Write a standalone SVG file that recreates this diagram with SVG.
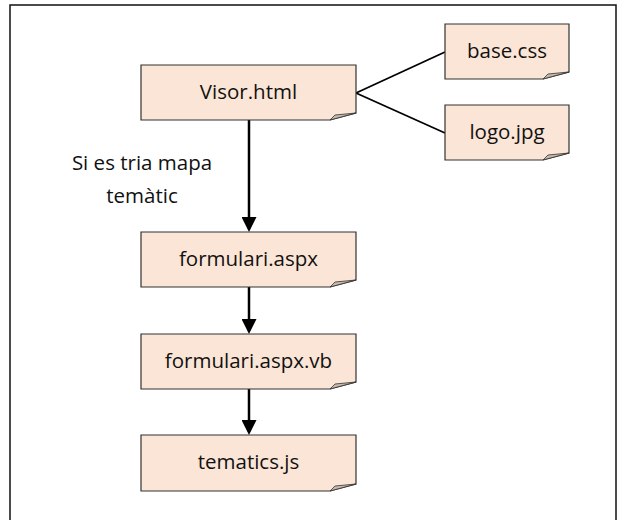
<svg xmlns="http://www.w3.org/2000/svg" width="625" height="520" viewBox="0 0 625 520">
<defs>
<style>
.note{fill:#fbe5d6;stroke:#333;stroke-width:1.2}
.fold{fill:#c9b9aa;stroke:#333;stroke-width:0.8}
.lbl{font-family:"Open Sans","Noto Sans",sans-serif;font-size:20.5px;fill:#111;text-anchor:middle}
.arr{stroke:#000;stroke-width:2.5;fill:none;marker-end:url(#ah)}
.ln{stroke:#000;stroke-width:1.8;fill:none}
</style>
<marker id="ah" markerUnits="userSpaceOnUse" markerWidth="15" markerHeight="15" viewBox="0 0 15 15" refX="12" refY="7.5" orient="auto">
<path d="M0,0 L15,7.5 L0,15 Z" fill="#000"/>
</marker>
</defs>
<rect x="0" y="0" width="625" height="520" fill="#fff"/>
<path d="M10,521 V5 H616 V521" fill="none" stroke="#111" stroke-width="1.5"/>
<g id="connectors">
<line class="arr" x1="249" y1="120" x2="249" y2="229"/>
<line class="arr" x1="249" y1="287" x2="249" y2="331"/>
<line class="arr" x1="249" y1="389" x2="249" y2="432"/>
<line class="ln" x1="356" y1="93" x2="445" y2="52"/>
<line class="ln" x1="356" y1="93" x2="445" y2="133"/>
<text class="lbl" x="142" y="170">Si es tria mapa</text>
<text class="lbl" x="142" y="203">temàtic</text>
</g>
<g id="visor">
<path class="note" d="M141,65 H356 V113 L330,120 H141 Z"/>
<polygon class="fold" points="330,120 335,115 356,113"/>
<text class="lbl" x="248.5" y="99">Visor.html</text>
</g>
<g id="base">
<path class="note" d="M445,24 H569 V72 L543,79 H445 Z"/>
<polygon class="fold" points="543,79 548,74 569,72"/>
<text class="lbl" x="507" y="58">base.css</text>
</g>
<g id="logo">
<path class="note" d="M445,105 H569 V153 L543,160 H445 Z"/>
<polygon class="fold" points="543,160 548,155 569,153"/>
<text class="lbl" x="507" y="139">logo.jpg</text>
</g>
<g id="formulari">
<path class="note" d="M141,232 H356 V280 L330,287 H141 Z"/>
<polygon class="fold" points="330,287 335,282 356,280"/>
<text class="lbl" x="248.5" y="266">formulari.aspx</text>
</g>
<g id="formularivb">
<path class="note" d="M141,334 H356 V382 L330,389 H141 Z"/>
<polygon class="fold" points="330,389 335,384 356,382"/>
<text class="lbl" x="248.5" y="368">formulari.aspx.vb</text>
</g>
<g id="tematics">
<path class="note" d="M141,435 H356 V484 L330,491 H141 Z"/>
<polygon class="fold" points="330,491 335,486 356,484"/>
<text class="lbl" x="248.5" y="469">tematics.js</text>
</g>
</svg>
